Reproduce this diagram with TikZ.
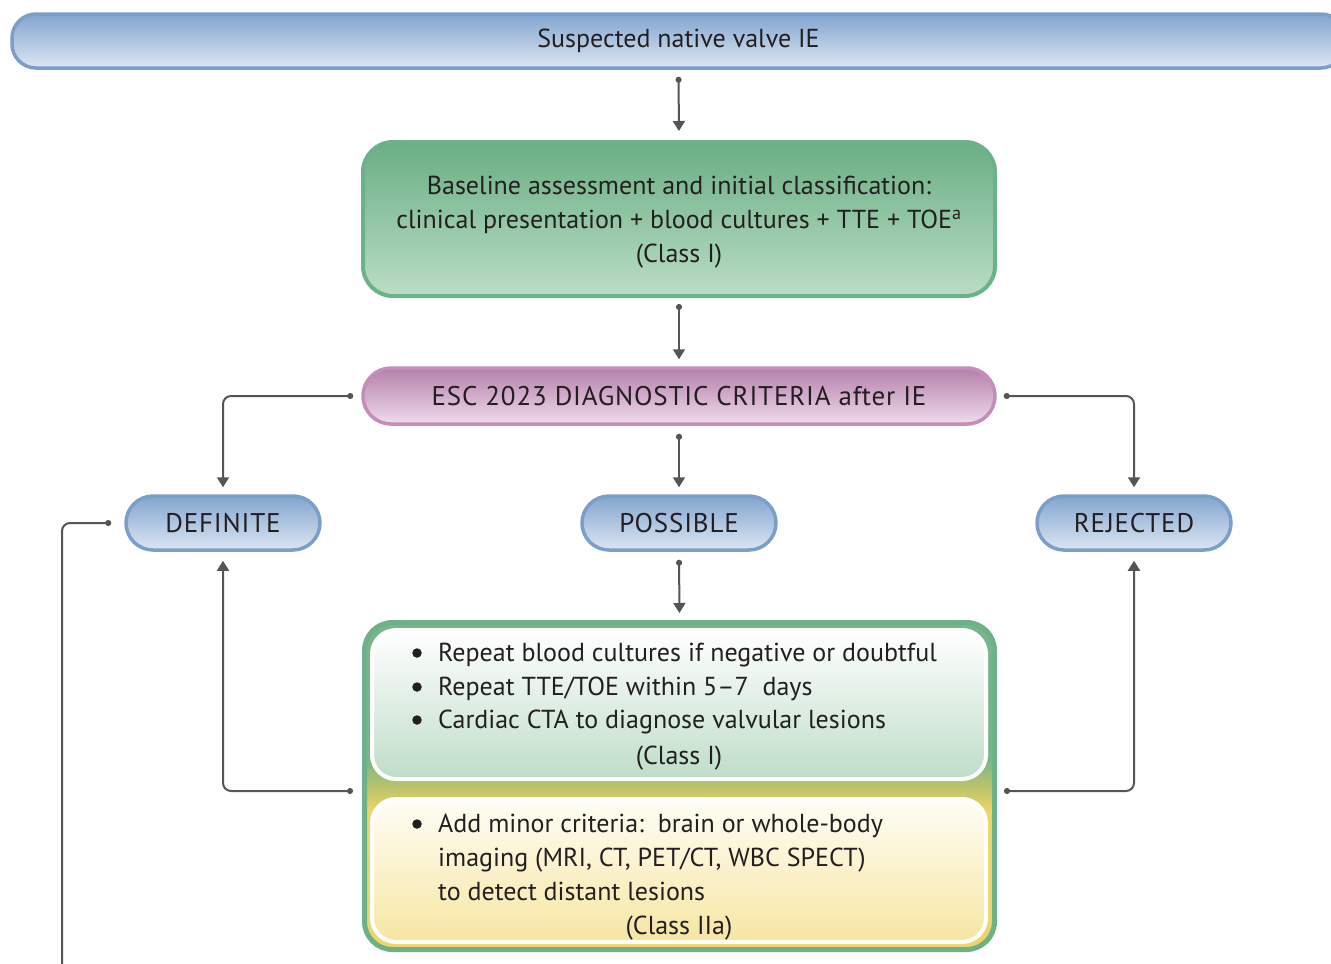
\documentclass[tikz,border=0pt]{standalone}
\usepackage{fontspec}
\setmainfont{PT Sans}
\usetikzlibrary{arrows.meta}

\definecolor{ink}{HTML}{231F20}
\definecolor{linkgray}{HTML}{555555}
\definecolor{blueedge}{HTML}{7B9FCA}
\definecolor{bluetop}{HTML}{82A5CF}
\definecolor{bluebot}{HTML}{DCE6F2}
\definecolor{greenedge}{HTML}{6CB187}
\definecolor{greentop}{HTML}{6AAE84}
\definecolor{greenbot}{HTML}{BADDC5}
\definecolor{purpedge}{HTML}{C48DBA}
\definecolor{purptop}{HTML}{B57FAA}
\definecolor{purpbot}{HTML}{F0DCEC}
\definecolor{fillgreen}{HTML}{78B68A}
\definecolor{olive}{HTML}{B9C36A}
\definecolor{fillyellow}{HTML}{EFD46A}
\definecolor{palegreen}{HTML}{BFDDC8}
\definecolor{paleyellow}{HTML}{F6E6A2}
\definecolor{cream}{HTML}{FFFDF6}

% green above, yellow below, short blend in the middle
\pgfdeclareverticalshading{greenyellow}{100bp}{%
  color(0bp)=(fillyellow); color(46bp)=(fillyellow); color(50bp)=(olive);
  color(54bp)=(fillgreen); color(100bp)=(fillgreen)}

\tikzset{
  txt/.style={text=ink, font=\fontsize{26}{34}\selectfont},
  caps/.style={text=ink, font=\fontsize{27}{34}\selectfont\addfontfeature{LetterSpace=3}},
  pill/.style={caps, draw=blueedge, line width=3.5pt, top color=bluetop, bottom color=bluebot,
    rounded corners=27pt, minimum width=194pt, minimum height=54pt, inner sep=0pt},
  link/.style={draw=linkgray, line width=2pt, rounded corners=8pt,
    {Circle[length=6pt]}-{Triangle[length=10pt,width=12pt]}},
  tail/.style={draw=linkgray, line width=2pt, rounded corners=8pt, {Circle[length=6pt]}-},
  bulletdot/.style={circle, fill=ink, inner sep=0pt, minimum size=9.5pt},
  line/.style={txt, anchor=base west, inner sep=0pt},
  cline/.style={txt, anchor=base, inner sep=0pt},
}

\begin{document}
\begin{tikzpicture}[x=1pt, y=-1pt]
\useasboundingbox (0,0) rectangle (1331,964);

% top banner (runs off the right edge)
\node[txt, draw=blueedge, line width=3.5pt, top color=bluetop, bottom color=bluebot,
  rounded corners=24pt, minimum width=1333pt, minimum height=54pt, inner sep=0pt]
  (susp) at (678.5,41) {Suspected native valve IE};

% baseline assessment
\node[draw=greenedge, line width=4pt, top color=greentop, bottom color=greenbot,
  rounded corners=30pt, minimum width=632pt, minimum height=154pt, inner sep=0pt]
  (base) at (679,219) {};
\node[txt, align=center, inner sep=0pt] (baseText) at (679,222)
  {Baseline assessment and initial classification:\\
  clinical presentation + blood cultures + TTE + TOE\textsuperscript{a}\\(Class I)};

% diagnostic criteria
\node[caps, draw=purpedge, line width=3.5pt, top color=purptop, bottom color=purpbot,
  rounded corners=28pt, minimum width=632pt, minimum height=56pt, inner sep=0pt]
  (crit) at (679,396) {ESC 2023 DIAGNOSTIC CRITERIA after IE};

% outcomes
\node[pill] (def)  at (223,523)  {DEFINITE};
\node[pill] (poss) at (679,523)  {POSSIBLE};
\node[pill] (rej)  at (1134,523) {REJECTED};

% further work-up box
\node[draw=greenedge, line width=5pt, shading=greenyellow,
  rounded corners=28pt, minimum width=630pt, minimum height=327pt]
  (big) at (679.5,786) {};
\node[draw=white, line width=4pt, top color=white, bottom color=palegreen,
  rounded corners=24pt, minimum width=614pt, minimum height=149pt]
  (boxA) at (679,704.5) {};
\node[draw=white, line width=4pt, top color=cream, bottom color=paleyellow,
  rounded corners=24pt, minimum width=614pt, minimum height=143pt]
  (boxB) at (679,870.5) {};

\node[bulletdot] (b1) at (417,653) {};
\node[bulletdot] (b2) at (417,687) {};
\node[bulletdot] (b3) at (417,720) {};
\node[bulletdot] (b4) at (417,824) {};
\node[line] (l1) at (438,661) {Repeat blood cultures if negative or doubtful};
\node[line] (l2) at (438,695) {Repeat TTE/TOE within 5--7\ \ days};
\node[line] (l3) at (438,728) {Cardiac CTA to diagnose valvular lesions};
\node[cline] (l4) at (679,764) {(Class I)};
\node[line] (l5) at (438,832) {Add minor criteria:\ \ brain or whole-body};
\node[line] (l6) at (438,866) {imaging (MRI, CT, PET/CT, WBC SPECT)};
\node[line] (l7) at (438,900) {to detect distant lesions};
\node[cline] (l8) at (679,934) {(Class IIa)};

% connectors
\draw[link, shorten <=7pt, shorten >=9pt] (susp.south) -- (base.north);
\draw[link, shorten <=6pt, shorten >=7pt] (base.south) -- (crit.north);
\draw[link, shorten <=8pt, shorten >=7pt] (crit.south) -- (poss.north);
\draw[link, shorten >=7pt] ([xshift=-8pt]crit.west) -| (def.north);
\draw[link, shorten >=7pt] ([xshift=7pt]crit.east) -| (rej.north);
\draw[link, shorten <=8pt, shorten >=7pt] (poss.south) -- (big.north);
\draw[link, shorten >=9pt] ([xshift=-9pt,yshift=-5pt]big.west) -| (def.south);
\draw[link, shorten >=9pt] ([xshift=7pt,yshift=-5pt]big.east) -| (rej.south);
\coordinate (exit) at (62,975);
\draw[tail] ([xshift=-13pt]def.west) -| (exit);
\end{tikzpicture}
\end{document}
